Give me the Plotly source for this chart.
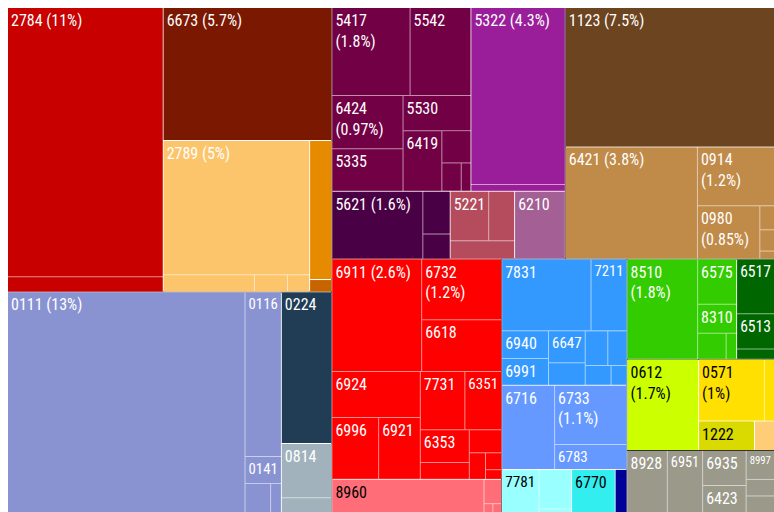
import plotly.graph_objects as go

# ---- hierarchy: blocks -> colour groups -> (clusters) -> products (share of exports, %) ----
# Siblings are listed in drawing order (largest first); tiles are laid out in that order.
block_ids = ["blk_a", "blk_b", "blk_c", "blk_d", "blk_e", "blk_f", "blk_g", "blk_h", "blk_i"]

group_ids = ["a1", "a2", "a3", "a4", "a5",
             "b1", "b2", "b3",
             "c1", "c2", "c3", "c4", "c5",
             "d1", "d2",
             "e1", "e2",
             "f1", "f2", "f3", "f4", "f5",
             "g1", "g2",
             "h1", "h2", "h3", "h4",
             "i1"]
group_block = ["blk_a"] * 5 + ["blk_b"] * 3 + ["blk_c"] * 5 + ["blk_d"] * 2 + ["blk_e"] * 2 \
    + ["blk_f"] * 5 + ["blk_g"] * 2 + ["blk_h"] * 4 + ["blk_i"]
group_colors = ["#C80000", "#7A1802", "#FDC56B", "#E68A00", "#C86400",
                "#8A93D2", "#213D56", "#A1B2BC",
                "#720045", "#9A1E99", "#4A0044", "#B44C5E", "#A46095",
                "#6C4420", "#C08A48",
                "#FF0000", "#FF6E78",
                "#3399FF", "#6699FF", "#99FFFF", "#33EEEE", "#000099",
                "#33CC00", "#006600",
                "#CCFF00", "#FFE000", "#DADA00", "#FFCC77",
                "#9B998A"]
group_text_colors = ["white"] * 15 + ["white", "black"] + ["white", "white", "black", "black", "white"] \
    + ["white", "white"] + ["black"] * 4 + ["white"]

# clusters inside the metal-products group
cluster_ids = ["e1_s1", "e1_s2", "e1_s3", "e1_s4", "e1_r1", "e1_r2", "e1_t1", "e1_t2"]
cluster_parents = ["e1", "e1", "e1", "e1", "e1_s4", "e1_s4", "e1_r2", "e1_r2"]

# products: parent node, code, share (%), label style
leaf_parent = (["a1"] * 2 + ["a2"] + ["a3"] * 4 + ["a4"] + ["a5"]
               + ["b1"] * 5 + ["b2"] + ["b3"] * 2
               + ["c1"] * 9 + ["c2"] * 2 + ["c3"] * 3 + ["c4"] * 3 + ["c5"]
               + ["d1"] + ["d2"] * 6
               + ["e1_s1"] + ["e1_s2"] * 2 + ["e1_s3"] * 3 + ["e1_r1"] * 2 + ["e1_t1"] * 2 + ["e1_t2"] * 4
               + ["e2"] * 4
               + ["f1"] * 10 + ["f2"] * 3 + ["f3"] * 3 + ["f4"] + ["f5"]
               + ["g1"] * 5 + ["g2"] * 3
               + ["h1"] + ["h2"] * 2 + ["h3"] + ["h4"]
               + ["i1"] * 7)
leaf_codes = ["2784", "", "6673", "2789", "", "", "", "", "",
              "0111", "0116", "0141", "", "", "0224", "0814", "",
              "5417", "5542", "6424", "5335", "5530", "6419", "", "", "",
              "5322", "", "5621", "", "", "5221", "", "", "6210",
              "1123", "6421", "0914", "0980", "", "", "",
              "6911", "6732", "6618", "6924", "6996", "6921", "7731", "6351", "6353", "", "", "", "", "",
              "8960", "", "", "",
              "7831", "7211", "6940", "6991", "6647", "", "", "", "", "",
              "6716", "6733", "6783", "7781", "", "", "6770", "",
              "8510", "6575", "8310", "", "", "6517", "6513", "",
              "0612", "0571", "", "1222", "",
              "8928", "6951", "6935", "6423", "8997", "", ""]
leaf_values = [10.72, 0.60, 5.74, 5.03, 0.40, 0.145, 0.097, 0.79, 0.07,
               13.4, 1.53, 0.25, 0.19, 0.08, 1.96, 0.70, 0.19,
               1.76, 1.37, 0.97, 0.77, 0.61, 0.60, 0.24, 0.14, 0.07,
               4.27, 0.16, 1.58, 0.30, 0.175, 0.49, 0.33, 0.30, 0.88,
               7.46, 3.79, 1.16, 0.85, 0.09, 0.08, 0.03,
               2.58, 1.24, 1.06, 1.04, 0.74, 0.66, 0.665, 0.55, 0.41, 0.21, 0.19, 0.11, 0.07, 0.04,
               1.29, 0.11, 0.02, 0.02,
               1.64, 0.66, 0.33, 0.32, 0.30, 0.21, 0.20, 0.17, 0.13, 0.08,
               1.14, 1.10, 0.46, 0.41, 0.33, 0.03, 0.48, 0.13,
               1.81, 0.45, 0.29, 0.19, 0.07, 0.53, 0.34, 0.10,
               1.67, 1.04, 0.16, 0.42, 0.15,
               0.64, 0.56, 0.39, 0.30, 0.21, 0.12, 0.12]
leaf_styles = ["inline", "", "inline", "inline", "", "", "", "", "",
               "inline", "code", "code", "", "", "code", "code", "",
               "wrap", "code", "wrap", "code", "code", "code", "", "", "",
               "inline", "", "inline", "", "", "code", "", "", "code",
               "inline", "inline", "wrap", "wrap", "", "", "",
               "inline", "wrap", "code", "code", "code", "code", "code", "code", "code", "", "", "", "", "",
               "code", "", "", "",
               "code", "code", "code", "code", "code", "", "", "", "", "",
               "code", "wrap", "code", "code", "", "", "code", "",
               "wrap", "code", "code", "", "", "code", "code", "",
               "wrap", "wrap", "", "code", "",
               "code", "code", "code", "code", "code", "", ""]

LABEL_FONT = "Roboto Condensed, Liberation Sans Narrow, Arial Narrow, Liberation Sans, sans-serif"
LABEL_SIZE = 16


def tint(hex_color, amount=0.55):
    """Mix a colour with white (used for the hairlines between products)."""
    h = hex_color.lstrip("#")
    r, g, b = (int(h[i:i + 2], 16) for i in (0, 2, 4))
    mix = lambda c: round(c + (255 - c) * amount)
    return "#{:02X}{:02X}{:02X}".format(mix(r), mix(g), mix(b))


def leaf_label(code, share, style):
    pct = f"{share:.2g}"
    if style == "inline":
        return f"{code} ({pct}%)"
    if style == "wrap":
        return f"{code}<br>({pct}%)"
    if style == "code":
        return code
    return ""


parent_of = dict(zip(cluster_ids, cluster_parents))
g_color = dict(zip(group_ids, group_colors))
g_text = dict(zip(group_ids, group_text_colors))


def owning_group(node):
    while node not in g_color:
        node = parent_of[node]
    return node


leaf_ids = [f"{p}-{i}" for i, p in enumerate(leaf_parent)]
leaf_group = [owning_group(p) for p in leaf_parent]

inner_ids = ["root"] + block_ids + group_ids + cluster_ids
inner_parents = [""] + ["root"] * len(block_ids) + group_block + cluster_parents
inner_colors = (["#333333"] + ["#FFFFFF"] * len(block_ids)
                + [tint(c) for c in group_colors]
                + [tint(g_color[owning_group(c)]) for c in cluster_ids])
n_inner = len(inner_ids)

ids = inner_ids + leaf_ids
parents = inner_parents + leaf_parent
values = [0] * n_inner + leaf_values
labels = inner_ids + [c or i for c, i in zip(leaf_codes, leaf_ids)]
colors = inner_colors + [g_color[g] for g in leaf_group]
texts = [""] * n_inner + [leaf_label(c, v, s) for c, v, s in zip(leaf_codes, leaf_values, leaf_styles)]
text_colors = ["white"] * n_inner + [g_text[g] for g in leaf_group]

fig = go.Figure(go.Treemap(
    ids=ids,
    labels=labels,
    parents=parents,
    values=values,
    branchvalues="remainder",
    sort=False,
    text=texts,
    texttemplate="%{text}",
    textposition="top left",
    textfont=dict(family=LABEL_FONT, size=LABEL_SIZE, color=text_colors),
    marker=dict(colors=colors, line=dict(width=0), pad=dict(t=0, l=0, r=0, b=0),
                depthfade=False),
    tiling=dict(packing="squarify", squarifyratio=1, pad=1),
    pathbar=dict(visible=False),
    hoverinfo="skip",
))

fig.update_layout(
    width=774, height=512,
    margin=dict(l=8, t=8, r=0, b=0),
    paper_bgcolor="white",
)

fig.write_html("out.html")
